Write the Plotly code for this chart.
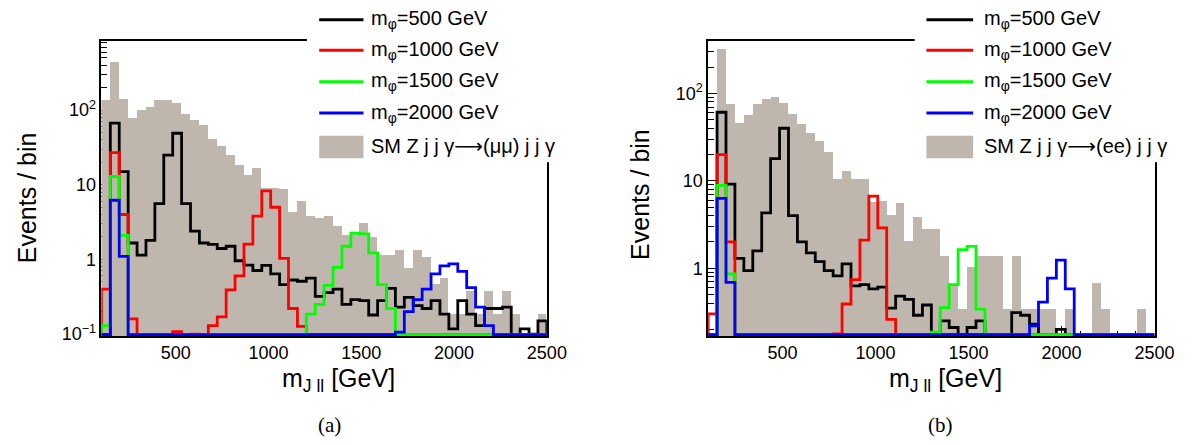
import numpy as np
import plotly.graph_objects as go

# ---------------- data (events per bin, 50 bins of 48 GeV from 100 to 2500 GeV) ----------------
BIN_LO, BIN_HI, N_BINS = 100.0, 2500.0, 50

# panel (a): Z -> mu mu
sm_mumu = [135, 441, 138, 77, 100, 110, 134, 137, 123, 88, 72, 63, 40, 33, 25, 18, 13.3, 16.6, 9.0, 9.0,
           8.6, 4.3, 6.0, 3.8, 3.5, 3.8, 2.8, 2.1, 2.3, 3.0, 2.0, 1.14, 1.14, 1.32, 0.76, 1.32, 1.08, 0.46,
           0.56, 0.185, 0.185, 0.376, 0.185, 0.376, 0.185, 0.376, 0.185, 0, 0, 0.185]
m500_mumu = [0, 67, 15, 1.66, 1.14, 1.8, 5.6, 25, 49, 5.6, 2.4, 1.66, 1.59, 1.4, 1.5, 0.96, 0.84, 0.71, 0.83,
             0.64, 0.46, 0.53, 0.51, 0.56, 0.32, 0.36, 0.4, 0.25, 0.29, 0.28, 0.18, 0.28, 0.41, 0.23, 0.31,
             0.24, 0.22, 0.28, 0.185, 0.117, 0.28, 0.185, 0.13, 0.22, 0.22, 0.23, 0, 0.117, 0.1, 0.15]
m1000_mumu = [0.4, 27, 4.0, 0.16, 0, 0, 0, 0, 0.108, 0, 0.1, 0, 0.13, 0.17, 0.39, 0.6, 1.6, 3.8, 8.3, 5.0,
              1.03, 0.22, 0.127, 0, 0, 0, 0, 0, 0, 0, 0, 0, 0, 0, 0, 0, 0, 0, 0, 0, 0, 0, 0, 0, 0, 0, 0, 0, 0, 0]
m1500_mumu = [0.13, 12.9, 2.1, 0, 0, 0, 0, 0, 0, 0, 0, 0, 0, 0, 0, 0, 0, 0, 0, 0, 0, 0, 0, 0.185, 0.25, 0.45,
              0.78, 1.5, 2.25, 2.2, 1.22, 0.46, 0.22, 0, 0, 0, 0, 0, 0, 0, 0, 0, 0, 0, 0, 0, 0, 0, 0, 0]
m2000_mumu = [0, 6.2, 1.1, 0, 0, 0, 0, 0, 0, 0, 0, 0, 0, 0, 0, 0, 0, 0, 0, 0, 0, 0, 0, 0, 0, 0, 0, 0, 0, 0,
              0, 0, 0, 0.106, 0.2, 0.29, 0.4, 0.64, 0.82, 0.87, 0.69, 0.42, 0.23, 0.13, 0, 0, 0, 0, 0, 0]

# panel (b): Z -> e e
sm_ee = [0, 323, 75, 45.7, 56, 75, 85, 91, 78, 58, 44.6, 35, 28, 21, 10.3, 12.7, 10.5, 10.5, 5.6, 5.8,
         4.0, 5.5, 2.05, 3.8, 2.75, 2.75, 1.35, 0.62, 0.34, 1.03, 1.35, 1.35, 1.35, 0.34, 1.35, 0.34, 0.34,
         0.34, 0.34, 0, 0.34, 0, 0, 0.68, 0.34, 0, 0, 0, 0.34, 0]
m500_ee = [0, 61, 9.2, 1.3, 0.94, 1.58, 4.3, 18, 40, 4.0, 2.0, 1.5, 1.19, 0.94, 0.82, 1.12, 0.63, 0.65, 0.58,
           0.61, 0.35, 0.48, 0.44, 0.29, 0.38, 0, 0.25, 0.21, 0, 0.21, 0.25, 0, 0, 0, 0.31, 0.29, 0.23, 0,
           0, 0.2, 0, 0, 0, 0, 0, 0, 0, 0, 0, 0]
m1000_ee = [0.3, 20, 2.0, 0, 0, 0, 0, 0, 0, 0, 0, 0, 0, 0, 0.178, 0.39, 0.74, 2.1, 6.7, 2.9, 0.26, 0, 0, 0,
            0, 0, 0, 0, 0, 0, 0, 0, 0, 0, 0, 0, 0, 0, 0, 0, 0, 0, 0, 0, 0, 0, 0, 0, 0, 0]
m1500_ee = [0, 8.9, 0.86, 0, 0, 0, 0, 0, 0, 0, 0, 0, 0, 0, 0, 0, 0, 0, 0, 0, 0, 0, 0, 0, 0, 0.186, 0.355,
            0.65, 1.63, 1.78, 0.34, 0, 0, 0, 0, 0, 0, 0, 0, 0, 0, 0, 0, 0, 0, 0, 0, 0, 0, 0]
m2000_ee = [0, 6.3, 0.69, 0, 0, 0, 0, 0, 0, 0, 0, 0, 0, 0, 0, 0, 0, 0, 0, 0, 0, 0, 0, 0, 0, 0, 0, 0, 0, 0,
            0, 0, 0, 0, 0, 0, 0.22, 0.41, 0.77, 1.24, 0.58, 0, 0, 0, 0, 0, 0, 0, 0, 0]

signal_labels = ["m<sub>φ</sub>=500 GeV", "m<sub>φ</sub>=1000 GeV", "m<sub>φ</sub>=1500 GeV", "m<sub>φ</sub>=2000 GeV"]
sm_label_a = "SM Z j j γ⟶(μμ) j j γ"
sm_label_b = "SM Z j j γ⟶(ee) j j γ"
x_tickvals = [500, 1000, 1500, 2000, 2500]
x_ticktext = ["500", "1000", "1500", "2000", "2500"]
y_tickvals = [0.1, 1, 10, 100]
y_ticktext = ["10<sup>−1</sup>", "1", "10", "10<sup>2</sup>"]
x_title = "m<sub>J ll</sub> [GeV]"
y_title = "Events / bin"
panel_labels = ["(a)", "(b)"]

# ---------------- style ----------------
W, H = 1200, 445
SIG_COLORS = ["#000000", "#ff0000", "#00ff00", "#0000ff"]
SM_COLOR = "#bfb7ae"
FONT = "Liberation Sans, Arial, DejaVu Sans, sans-serif"
SERIF = "Liberation Serif, Times New Roman, serif"

edges = np.linspace(BIN_LO, BIN_HI, N_BINS + 1)
centers = 0.5 * (edges[:-1] + edges[1:])
bw = edges[1] - edges[0]

panels = [
    dict(xd=(95, 548), yr=(-1.026, 2.921), dec=76.0, sm=sm_mumu, sig=[m500_mumu, m1000_mumu, m1500_mumu, m2000_mumu],
         smlab=sm_label_a, leg_line=(316.5, 361.5), leg_text=367, cover=(304, 562),
         ytitle_x=19, ytitle_y=193, xtitle_x=277, lab_x=327),
    dict(xd=(712, 1166), yr=(-0.775, 2.596), dec=89.0, sm=sm_ee, sig=[m500_ee, m1000_ee, m1500_ee, m2000_ee],
         smlab=sm_label_b, leg_line=(934, 981.5), leg_text=991, cover=(922, 1180),
         ytitle_x=642, ytitle_y=190, xtitle_x=894, lab_x=948),
]
Y_TOP, Y_BOT = 34, 334
LEG_Y = [12, 43, 75, 107, 141]

def pxx(p):
    return p / W

def pxy(p):
    return 1 - p / H

fig = go.Figure()
shapes, annots = [], []

for i, P in enumerate(panels):
    xa = "x" if i == 0 else "x2"
    ya = "y" if i == 0 else "y2"
    floor = 10 ** (P["yr"][0] + 1.4 / P["dec"])
    fig.add_trace(go.Bar(x=centers, y=[v if v > 0 else None for v in P["sm"]], width=bw,
                         marker=dict(color=SM_COLOR, line=dict(width=0)), xaxis=xa, yaxis=ya,
                         showlegend=False, hoverinfo="skip"))
    for vals, col in zip(P["sig"], SIG_COLORS):
        yv = [max(v, floor) for v in vals]
        xs = [edges[0]] + list(edges[:-1]) + [edges[-1], edges[-1]]
        ys = [floor] + yv + [yv[-1], floor]
        fig.add_trace(go.Scatter(x=xs, y=ys, mode="lines", line=dict(color=col, width=2.8, shape="hv"),
                                 xaxis=xa, yaxis=ya, showlegend=False, hoverinfo="skip"))

    # white legend area (covers frame like the original legend box)
    shapes.append(dict(type="rect", xref="paper", yref="paper", layer="above",
                       x0=pxx(P["cover"][0]), x1=pxx(P["cover"][1]), y0=pxy(157), y1=pxy(0),
                       fillcolor="white", line=dict(width=0)))
    for k, col in enumerate(SIG_COLORS):
        shapes.append(dict(type="line", xref="paper", yref="paper", layer="above",
                           x0=pxx(P["leg_line"][0]), x1=pxx(P["leg_line"][1]),
                           y0=pxy(LEG_Y[k]), y1=pxy(LEG_Y[k]), line=dict(color=col, width=3)))
        annots.append(dict(text=signal_labels[k], xref="paper", yref="paper", x=pxx(P["leg_text"]),
                           y=pxy(LEG_Y[k]), xanchor="left", yanchor="middle", showarrow=False,
                           font=dict(family=FONT, size=20, color="black")))
    shapes.append(dict(type="rect", xref="paper", yref="paper", layer="above",
                       x0=pxx(P["leg_line"][0]), x1=pxx(P["leg_line"][1]), y0=pxy(153), y1=pxy(130),
                       fillcolor=SM_COLOR, line=dict(width=0)))
    annots.append(dict(text=P["smlab"], xref="paper", yref="paper", x=pxx(P["leg_text"]), y=pxy(LEG_Y[4]),
                       xanchor="left", yanchor="middle", showarrow=False,
                       font=dict(family=FONT, size=20, color="black")))
    # axis titles
    annots.append(dict(text=y_title, xref="paper", yref="paper", x=pxx(P["ytitle_x"]), y=pxy(P["ytitle_y"]),
                       xanchor="center", yanchor="middle", textangle=-90, showarrow=False,
                       font=dict(family=FONT, size=25, color="black")))
    annots.append(dict(text=x_title, xref="paper", yref="paper", x=pxx(P["xtitle_x"]), y=pxy(379),
                       xanchor="left", yanchor="middle", showarrow=False,
                       font=dict(family=FONT, size=25, color="black")))
    annots.append(dict(text=panel_labels[i], xref="paper", yref="paper", x=pxx(P["lab_x"]), y=pxy(425),
                       xanchor="center", yanchor="middle", showarrow=False,
                       font=dict(family=SERIF, size=21, color="black")))

    lo, hi = P["yr"]
    minor_y = [m * 10.0 ** d for d in range(-2, 4) for m in range(2, 10) if lo < np.log10(m * 10.0 ** d) < hi]
    axkey = "" if i == 0 else "2"
    fig.update_layout(**{
        "xaxis" + axkey: dict(domain=[pxx(P["xd"][0]), pxx(P["xd"][1])], range=[BIN_LO, BIN_HI],
                              anchor=ya, showline=True, mirror=True, linecolor="black", linewidth=1.5,
                              ticks="inside", ticklen=10, tickwidth=1.2, tickcolor="black",
                              tickmode="array", tickvals=x_tickvals, ticktext=x_ticktext,
                              minor=dict(ticks="inside", ticklen=5, tickwidth=1, tickcolor="black", dtick=100, tick0=0),
                              showgrid=False, zeroline=False, layer="below traces",
                              tickfont=dict(family=FONT, size=18, color="black")),
        "yaxis" + axkey: dict(domain=[pxy(Y_BOT), pxy(Y_TOP)], type="log", range=[lo, hi],
                              anchor=xa, showline=True, mirror=True, linecolor="black", linewidth=1.5,
                              ticks="inside", ticklen=12, tickwidth=1.2, tickcolor="black",
                              tickmode="array", tickvals=y_tickvals, ticktext=y_ticktext,
                              minor=dict(ticks="inside", ticklen=6, tickwidth=1, tickcolor="black",
                                         tickmode="array", tickvals=minor_y),
                              showgrid=False, zeroline=False, layer="below traces",
                              tickfont=dict(family=FONT, size=18, color="black")),
    })

fig.update_layout(width=W, height=H, margin=dict(l=0, r=0, t=0, b=0), paper_bgcolor="white",
                  plot_bgcolor="white", showlegend=False, shapes=shapes, annotations=annots, bargap=0)
fig.write_html("out.html")
